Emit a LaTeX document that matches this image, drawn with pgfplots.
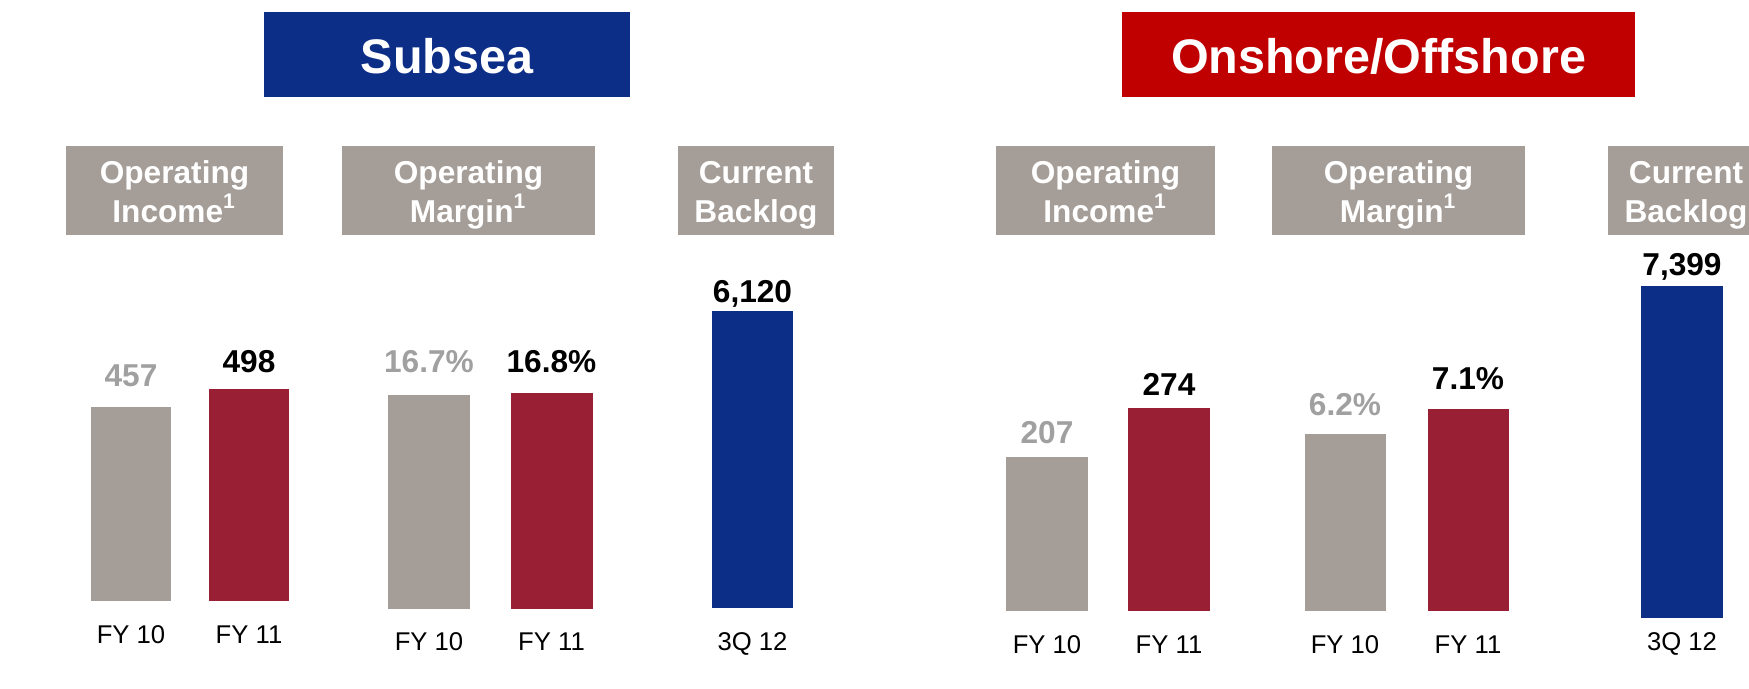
\documentclass[border=0pt]{standalone}
\usepackage{pgfplots}
\pgfplotsset{compat=1.18}
\usepackage{fontspec}
\setmainfont{Liberation Sans}

\definecolor{cnavy}{RGB}{12,46,135}
\definecolor{ctitlered}{RGB}{192,0,0}
\definecolor{cgray}{RGB}{165,157,151}
\definecolor{cred}{RGB}{152,31,52}
\definecolor{clabgray}{RGB}{160,160,160}

\newcommand{\titlefont}{\fontsize{13.8}{16}\selectfont\bfseries}
\newcommand{\headfont}{\fontsize{9}{11}\selectfont\bfseries}
\newcommand{\valfont}{\fontsize{9}{11}\selectfont\bfseries}
\newcommand{\tickfont}{\fontsize{7.3}{9}\selectfont}

\pgfplotsset{
  minibar/.style={
    scale only axis, anchor=south west, clip=false,
    ybar, ymin=0, enlargelimits=false,
    axis line style={draw=none}, major tick length=0pt,
    ytick=\empty, xtick={0,1},
    xticklabel style={font=\tickfont, anchor=base, inner sep=0pt, yshift=-4.2mm},
    point meta=explicit symbolic, nodes near coords,
    every node near coord/.append style={font=\valfont, anchor=base, inner sep=0pt},
  },
  fy10/.style={fill=cgray, draw=none, bar shift=0pt,
    every node near coord/.append style={text=clabgray, anchor=base, yshift=#1}},
  fy11/.style={fill=cred, draw=none, bar shift=0pt,
    every node near coord/.append style={text=black, anchor=base, yshift=#1}},
  blog/.style={fill=cnavy, draw=none, bar shift=0pt,
    every node near coord/.append style={text=black, anchor=base, yshift=#1}},
}

\begin{document}
\begin{tikzpicture}[x=0.1mm, y=0.1mm]
\useasboundingbox (0,0) rectangle (1749,688);
\clip (0,0) rectangle (1749,688);

% titre des deux segments
\fill[cnavy] (264,591) rectangle (630,676);
\node[text=white, font=\titlefont, anchor=base] at (447,615) {Subsea};
\fill[ctitlered] (1122,591) rectangle (1635,676);
\node[text=white, font=\titlefont, anchor=base] at (1378.5,615) {Onshore/Offshore};

% boites grises
\foreach \xa/\xb/\xc/\la/\lb in {66/283/174.5/Operating/Income\textsuperscript{1},
    342/595/468.5/Operating/Margin\textsuperscript{1},
    678/834/756/Current/Backlog,
    996/1215/1105.5/Operating/Income\textsuperscript{1},
    1272/1525/1398.5/Operating/Margin\textsuperscript{1},
    1608/1800/1686/Current/Backlog} {
  \fill[cgray] (\xa,453) rectangle (\xb,542);
  \node[text=white, font=\headfont, anchor=base] at (\xc,505) {\la};
  \node[text=white, font=\headfont, anchor=base] at (\xc,466) {\lb};
}

% Subsea
\begin{axis}[minibar, at={(7.2mm,8.7mm)}, width=23.6mm, height=21.25mm,
  xmin=-0.5, xmax=1.5, ymax=500, bar width=8mm, xticklabels={FY 10,FY 11}]
\addplot[fy10=2.0mm] coordinates {(0,457) [457]};
\addplot[fy11=1.7mm] coordinates {(1,498) [498]};
\end{axis}

\begin{axis}[minibar, at={(36.775mm,7.95mm)}, width=24.5mm, height=21.76mm,
  xmin=-0.5, xmax=1.5, ymax=17, bar width=8.2mm, xticklabels={FY 10,FY 11}]
\addplot[fy10=2.2mm] coordinates {(0,16.7) [16.7\%]};
\addplot[fy11=2.1mm] coordinates {(1,16.8) [16.8\%]};
\end{axis}

\begin{axis}[minibar, at={(70.25mm,8.0mm)}, width=10mm, height=31.54mm,
  xmin=-0.5, xmax=0.5, xtick={0}, ymax=6500, bar width=8.1mm, xticklabels={3Q 12}]
\addplot[blog=0.9mm] coordinates {(0,6120) [{6,120}]};
\end{axis}

% Onshore/Offshore
\begin{axis}[minibar, at={(98.6mm,7.7mm)}, width=24.4mm, height=22.26mm,
  xmin=-0.5, xmax=1.5, ymax=300, bar width=8.2mm, xticklabels={FY 10,FY 11}]
\addplot[fy10=1.4mm] coordinates {(0,207) [207]};
\addplot[fy11=1.2mm] coordinates {(1,274) [274]};
\end{axis}

\begin{axis}[minibar, at={(128.35mm,7.7mm)}, width=24.6mm, height=22.8mm,
  xmin=-0.5, xmax=1.5, ymax=8, bar width=8.1mm, xticklabels={FY 10,FY 11}]
\addplot[fy10=1.9mm] coordinates {(0,6.2) [6.2\%]};
\addplot[fy11=1.9mm] coordinates {(1,7.1) [7.1\%]};
\end{axis}

\begin{axis}[minibar, at={(163.2mm,7.0mm)}, width=10mm, height=35.9mm,
  xmin=-0.5, xmax=0.5, xtick={0}, ymax=8000, bar width=8.2mm, xticklabels={3Q 12},
  xticklabel style={yshift=1.0mm}]
\addplot[blog=1.1mm] coordinates {(0,7399) [{7,399}]};
\end{axis}
\end{tikzpicture}
\end{document}
